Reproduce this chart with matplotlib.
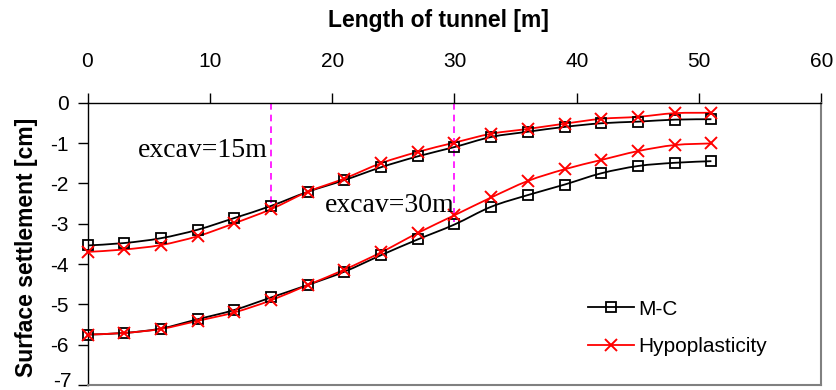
import matplotlib
matplotlib.use("Agg")
import matplotlib.pyplot as plt
from matplotlib.path import Path
from matplotlib.patches import PathPatch
from matplotlib.lines import Line2D

# Distance along the tunnel [m]
x = [0, 3, 6, 9, 12, 15, 18, 21, 24, 27, 30, 33, 36, 39, 42, 45, 48, 51]

# Surface settlement [cm] after excavating 15 m
mc_15 = [-3.54, -3.48, -3.36, -3.15, -2.86, -2.56, -2.21, -1.92, -1.60, -1.33,
         -1.10, -0.85, -0.72, -0.60, -0.51, -0.47, -0.42, -0.41]
hypo_15 = [-3.70, -3.64, -3.53, -3.31, -2.99, -2.64, -2.21, -1.88, -1.50, -1.22,
           -0.99, -0.77, -0.65, -0.52, -0.40, -0.35, -0.26, -0.25]

# Surface settlement [cm] after excavating 30 m
mc_30 = [-5.75, -5.71, -5.60, -5.37, -5.14, -4.83, -4.52, -4.19, -3.78, -3.39,
         -3.02, -2.58, -2.29, -2.03, -1.75, -1.57, -1.49, -1.45]
hypo_30 = [-5.75, -5.71, -5.61, -5.41, -5.20, -4.90, -4.52, -4.14, -3.71, -3.23,
           -2.79, -2.35, -1.94, -1.65, -1.42, -1.20, -1.05, -1.01]

# Excavation face positions and how far down the marker line runs
excav_x = [15, 30]
excav_depth = [-2.62, -2.95]
excav_labels = ["excav=15m", "excav=30m"]

xticks = [0, 10, 20, 30, 40, 50, 60]
yticks = [0, -1, -2, -3, -4, -5, -6, -7]

plt.rcParams["font.family"] = ["Liberation Sans", "DejaVu Sans"]

fig = plt.figure(figsize=(8.37, 3.90), dpi=100)
L, R, T, B = 87.5, 821.5, 102.7, 385.0
W, H = 837.0, 390.0
ax = fig.add_axes([L / W, 1 - B / H, (R - L) / W, (B - T) / H])
ax.set_xlim(0, 60)
ax.set_ylim(-7, 0)


def smooth_path(xs, ys):
    """Cubic Bezier curve through the points (Catmull-Rom style)."""
    pts = list(zip(xs, ys))
    n = len(pts)
    verts = [pts[0]]
    codes = [Path.MOVETO]
    for i in range(n - 1):
        p0 = pts[i - 1] if i > 0 else pts[i]
        p1 = pts[i]
        p2 = pts[i + 1]
        p3 = pts[i + 2] if i + 2 < n else pts[i + 1]
        c1 = (p1[0] + (p2[0] - p0[0]) / 6.0, p1[1] + (p2[1] - p0[1]) / 6.0)
        c2 = (p2[0] - (p3[0] - p1[0]) / 6.0, p2[1] - (p3[1] - p1[1]) / 6.0)
        verts += [c1, c2, p2]
        codes += [Path.CURVE4] * 3
    return Path(verts, codes)


def draw_series(ys, color, marker, ms, mew):
    ax.add_patch(PathPatch(smooth_path(x, ys), fill=False, edgecolor=color,
                           lw=1.3, zorder=3))
    ax.plot(x, ys, ls="none", marker=marker, ms=ms, mfc="none",
            mec=color, mew=mew, zorder=4, clip_on=False)


for ys in (mc_15, mc_30):
    draw_series(ys, "black", "s", 6.5, 1.3)
for ys in (hypo_15, hypo_30):
    draw_series(ys, "#ff0000", "x", 8.5, 1.4)

# Excavation face markers
for xe, de in zip(excav_x, excav_depth):
    ax.plot([xe, xe], [0, de], color="#ff00ff", lw=1.2, ls=(0, (4, 3)), zorder=2)

serif = ["Liberation Serif", "DejaVu Serif"]
ax.text((138 - L) / (R - L) * 60, -(157.3 - T) / (B - T) * 7,
        excav_labels[0], family=serif, fontsize=20,
        ha="left", va="baseline", zorder=5)
ax.text((325 - L) / (R - L) * 60, -(211.7 - T) / (B - T) * 7,
        excav_labels[1], family=serif, fontsize=20,
        ha="left", va="baseline", zorder=5)

# Axes styling: x axis along the top at y = 0
ax.xaxis.tick_top()
ax.set_xticks(xticks)
ax.set_yticks(yticks)
ax.set_xticklabels([str(v) for v in xticks])
# lowest y label is drawn separately, nudged up so it stays inside the figure
ax.set_yticklabels([str(v) for v in yticks[:-1]] + [""])
ax.annotate(str(yticks[-1]), xy=(0, yticks[-1]), xycoords=("axes fraction", "data"),
            xytext=(-11.2, 2.5), textcoords="offset points",
            ha="right", va="center", fontsize=15)
ax.tick_params(axis="x", direction="out", length=7, width=1, pad=15.5,
               labelsize=15, colors="black")
ax.tick_params(axis="y", direction="out", length=7, width=1, pad=6.5,
               labelsize=15, colors="black")

for s in ("left", "top"):
    ax.spines[s].set_color("black")
    ax.spines[s].set_linewidth(1.0)
for s in ("right", "bottom"):
    ax.spines[s].set_color("#808080")
    ax.spines[s].set_linewidth(1.5)

ax.text((438.5 - L) / (R - L), (B - 20) / (B - T), "Length of tunnel [m]",
        transform=ax.transAxes, ha="center", va="center",
        fontsize=16.5, fontweight="bold")
fig.text(27 / W, 1 - 247 / H, "Surface settlement [cm]", rotation=90,
         ha="center", va="center", fontsize=16.5, fontweight="bold")

handles = [
    Line2D([], [], color="black", lw=1.3, marker="s", ms=6.5, mfc="none",
           mec="black", mew=1.3),
    Line2D([], [], color="#ff0000", lw=1.3, marker="x", ms=8.5, mec="#ff0000",
           mew=1.4),
]
leg = ax.legend(handles, ["M-C", "Hypoplasticity"], loc="upper left",
                bbox_to_anchor=((571 - L) / (R - L), (B - 283) / (B - T)),
                frameon=False, fontsize=15, handlelength=2.2,
                handletextpad=0.25, labelspacing=0.9, borderpad=0.3)

fig.savefig("out.png", dpi=100)
